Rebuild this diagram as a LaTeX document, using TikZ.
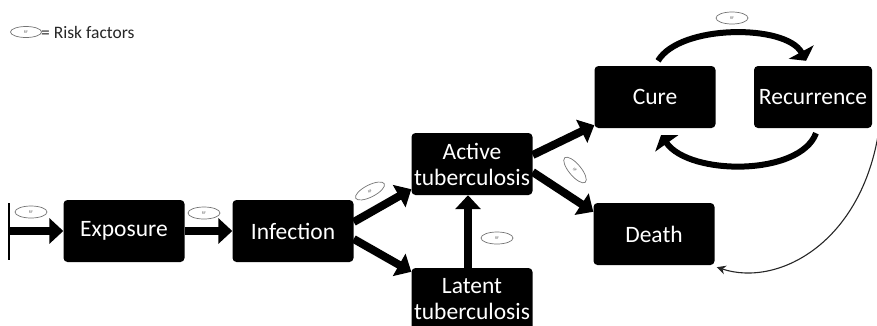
\documentclass[tikz,border=0pt]{standalone}
\usepackage{fontspec}
\setmainfont{Carlito}
\usetikzlibrary{arrows.meta,shapes.geometric,calc}

\tikzset{
  stage/.style={draw=none, fill=black, text=white, rounded corners=4pt,
    minimum width=121pt, minimum height=62pt, inner sep=0pt, align=center,
    font=\fontsize{23.5}{26}\selectfont},
  flow/.style={line width=8pt, -{Triangle[length=14pt,width=25pt]}},
  loop/.style={line width=6pt, -{Triangle[length=10pt,width=28pt]}},
  rf/.style={ellipse, draw=black!55, line width=0.7pt, minimum width=32pt,
    minimum height=12pt, inner sep=0pt, text=black!60,
    font=\fontsize{4}{4}\selectfont},
  legend/.style={anchor=west, inner sep=0pt, text=black!85,
    font=\fontsize{17.5}{19}\selectfont},
}

\begin{document}
\begin{tikzpicture}[x=1pt, y=-1pt]
  \useasboundingbox (0,0) rectangle (877,325);
  \clip (0,0) rectangle (877,325);

  % legend
  \node[rf, minimum width=31pt, minimum height=11pt] (key) at (26,32) {RF};
  \node[legend] (keytext) at (41,32) {= Risk factors};

  % stages
  \node[stage] (exp) at (124,231) {Exposure};
  \node[stage] (inf) at (293,231) {Infection};
  \node[stage] (act) at (472,164) {Active\\tuberculosis};
  \node[stage] (lat) at (472,299) {Latent\\tuberculosis};
  \node[stage] (cure) at (655,97) {Cure};
  \node[stage, minimum width=118pt] (rec) at (813,97) {Recurrence};
  \node[stage] (death) at (654,234) {Death};

  % entry marker
  \coordinate (start) at (9,231);
  \coordinate (mtop) at (9,203);
  \coordinate (mbot) at (9,260);
  \draw[line width=1.5pt] (mtop) -- (mbot);

  % main flow
  \draw[flow] (start) -- (exp.west);
  \draw[flow] (exp.east) -- (inf.west);
  \draw[flow] ($(inf.east)+(0,-9)$) -- ($(act.south west)+(0,-6)$);
  \draw[flow] ($(inf.east)+(0,8)$) -- ($(lat.north west)+(0,4)$);
  \draw[flow] ($(lat.north)+(-4,0)$) -- ($(act.south)+(-4,0)$);
  \draw[flow] ($(act.east)+(0,-9)$) -- ($(cure.south west)+(0,-3)$);
  \draw[flow] ($(act.east)+(0,8)$) -- ($(death.north west)+(0,9)$);

  % cure / recurrence cycle
  \draw[loop] ($(cure.north)+(3,-5)$) .. controls (680,24) and (786,24) .. ($(rec.north)+(-7,-5)$);
  \draw[loop] ($(rec.south)+(3,5)$) .. controls (800,176) and (690,176) .. ($(cure.south)+(6,7)$);

  % recurrence leading to death
  \coordinate (edge) at (880,122);
  \draw[line width=1.1pt, black!85, -{Stealth[length=9pt,width=9pt]}]
    (edge) .. controls (866,240) and (780,288) .. ($(death.south east)+(2,2)$);

  % risk factor markers
  \node[rf] (rf1) at (31,212) {RF};
  \node[rf] (rf2) at (204,213) {RF};
  \node[rf, rotate=27] (rf3) at (370,191) {RF};
  \node[rf] (rf4) at (497,238) {RF};
  \node[rf, rotate=-50] (rf5) at (575,170) {RF};
  \node[rf] (rf6) at (732,18) {RF};
\end{tikzpicture}
\end{document}
